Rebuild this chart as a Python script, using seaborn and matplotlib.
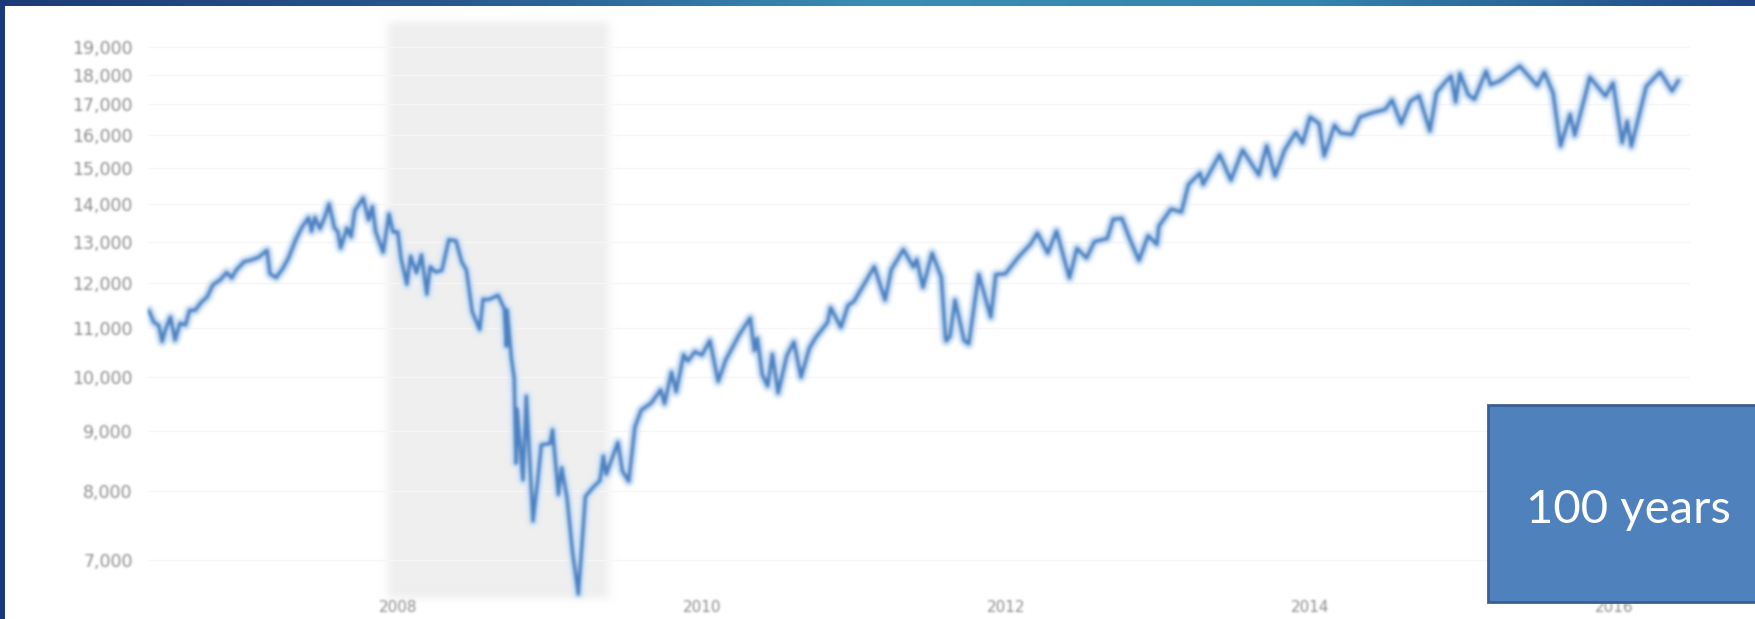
import numpy as np
import pandas as pd
import matplotlib
matplotlib.use("Agg")
import matplotlib.pyplot as plt
import matplotlib.dates as mdates
import seaborn as sns
from matplotlib.colors import LinearSegmentedColormap
from matplotlib.patches import Rectangle
from matplotlib.ticker import FixedLocator, FuncFormatter, NullLocator

# Dow Jones Industrial Average, approximate closes (May 2006 - June 2016)
dates = [
    "2006-05-12", "2006-05-24", "2006-06-05", "2006-06-13", "2006-06-22", "2006-07-03",
    "2006-07-14", "2006-07-26", "2006-08-08", "2006-08-18", "2006-08-31", "2006-09-15",
    "2006-09-29", "2006-10-13", "2006-10-31", "2006-11-15", "2006-11-27", "2006-12-08",
    "2006-12-27", "2007-01-12", "2007-01-31", "2007-02-20", "2007-02-27", "2007-03-14",
    "2007-03-30", "2007-04-13", "2007-04-30", "2007-05-15", "2007-05-31", "2007-06-07",
    "2007-06-15", "2007-06-27", "2007-07-09", "2007-07-19", "2007-08-01", "2007-08-09",
    "2007-08-16", "2007-08-31", "2007-09-10", "2007-09-19", "2007-10-09", "2007-10-22",
    "2007-10-31", "2007-11-08", "2007-11-26", "2007-12-10", "2007-12-20", "2007-12-31",
    "2008-01-08", "2008-01-22", "2008-01-31", "2008-02-14", "2008-02-26", "2008-03-10",
    "2008-03-18", "2008-03-31", "2008-04-15", "2008-05-02", "2008-05-19", "2008-06-02",
    "2008-06-13", "2008-06-27", "2008-07-15", "2008-07-23", "2008-08-05", "2008-08-15",
    "2008-08-28", "2008-09-12", "2008-09-17", "2008-09-19", "2008-09-29", "2008-10-06",
    "2008-10-10", "2008-10-13", "2008-10-27", "2008-11-04", "2008-11-20", "2008-12-01",
    "2008-12-10", "2008-12-31", "2009-01-06", "2009-01-20", "2009-01-28", "2009-02-10",
    "2009-02-23", "2009-03-09", "2009-03-26", "2009-04-13", "2009-04-30", "2009-05-08",
    "2009-05-15", "2009-06-12", "2009-06-23", "2009-07-08", "2009-07-23", "2009-08-07",
    "2009-08-31", "2009-09-23", "2009-10-02", "2009-10-19", "2009-10-30", "2009-11-17",
    "2009-11-27", "2009-12-14", "2009-12-31", "2010-01-19", "2010-02-08", "2010-02-26",
    "2010-03-31", "2010-04-26", "2010-05-06", "2010-05-13", "2010-05-25", "2010-06-07",
    "2010-06-18", "2010-07-02", "2010-07-23", "2010-08-09", "2010-08-26", "2010-09-15",
    "2010-09-30", "2010-10-29", "2010-11-05", "2010-11-30", "2010-12-17", "2010-12-31",
    "2011-01-25", "2011-02-18", "2011-03-16", "2011-03-31", "2011-04-29", "2011-05-23",
    "2011-05-31", "2011-06-15", "2011-07-07", "2011-07-29", "2011-08-08", "2011-08-10",
    "2011-08-19", "2011-08-31", "2011-09-22", "2011-10-03", "2011-10-27", "2011-11-25",
    "2011-12-07", "2011-12-30", "2012-01-31", "2012-02-29", "2012-03-16", "2012-04-10",
    "2012-05-01", "2012-06-01", "2012-06-19", "2012-07-12", "2012-07-31", "2012-08-31",
    "2012-09-14", "2012-10-05", "2012-10-23", "2012-11-15", "2012-12-07", "2012-12-28",
    "2013-01-02", "2013-01-31", "2013-02-25", "2013-03-14", "2013-04-11", "2013-04-18",
    "2013-05-28", "2013-06-24", "2013-07-22", "2013-08-30", "2013-09-18", "2013-10-08",
    "2013-10-31", "2013-11-27", "2013-12-13", "2013-12-31", "2014-01-22", "2014-02-03",
    "2014-02-28", "2014-03-14", "2014-04-11", "2014-04-30", "2014-05-30", "2014-06-30",
    "2014-07-16", "2014-08-07", "2014-08-29", "2014-09-19", "2014-10-15", "2014-10-31",
    "2014-11-26", "2014-12-05", "2014-12-16", "2014-12-26", "2015-01-15", "2015-01-30",
    "2015-02-27", "2015-03-10", "2015-03-31", "2015-05-19", "2015-06-30", "2015-07-17",
    "2015-08-07", "2015-08-25", "2015-09-17", "2015-09-28", "2015-10-30", "2015-11-03",
    "2015-12-11", "2015-12-29", "2016-01-20", "2016-02-01", "2016-02-11", "2016-03-18",
    "2016-04-20", "2016-05-19", "2016-06-03",
]
closes = [
    11380, 11120, 11050, 10710, 10990, 11230,
    10740, 11100, 11060, 11380, 11380, 11560,
    11680, 11960, 12080, 12250, 12120, 12310,
    12510, 12550, 12620, 12790, 12220, 12130,
    12350, 12610, 13060, 13380, 13630, 13270,
    13640, 13340, 13650, 14000, 13360, 13270,
    12850, 13360, 13130, 13820, 14160, 13570,
    13930, 13270, 12740, 13730, 13250, 13260,
    12590, 11970, 12650, 12240, 12680, 11740,
    12390, 12260, 12300, 13060, 13030, 12500,
    12310, 11350, 10960, 11630, 11620, 11660,
    11720, 11420, 10610, 11390, 10370, 9960,
    8450, 9390, 8180, 9630, 7550, 8150,
    8760, 8780, 9020, 7950, 8380, 7890,
    7110, 6550, 7920, 8060, 8170, 8570,
    8270, 8800, 8320, 8160, 9070, 9370,
    9500, 9750, 9490, 10090, 9710, 10440,
    10310, 10500, 10430, 10730, 9910, 10330,
    10860, 11210, 10520, 10780, 10040, 9820,
    10450, 9690, 10420, 10700, 9990, 10570,
    10790, 11120, 11440, 11010, 11490, 11580,
    11980, 12390, 11610, 12320, 12810, 12380,
    12570, 11900, 12720, 12140, 10810, 10720,
    10820, 11610, 10730, 10660, 12210, 11230,
    12200, 12220, 12630, 12950, 13230, 12720,
    13280, 12120, 12840, 12600, 13010, 13090,
    13590, 13610, 13100, 12540, 13160, 12940,
    13410, 13860, 13780, 14540, 14870, 14540,
    15410, 14660, 15550, 14810, 15680, 14780,
    15550, 16100, 15760, 16580, 16370, 15370,
    16320, 16070, 16030, 16580, 16720, 16830,
    17140, 16370, 17100, 17280, 16140, 17390,
    17830, 17960, 17070, 18050, 17320, 17160,
    18130, 17660, 17780, 18310, 17620, 18090,
    17370, 15670, 16670, 16000, 17660, 17920,
    17270, 17720, 15770, 16450, 15660, 17600,
    18100, 17440, 17800,
]

y_ticks = [7000, 8000, 9000, 10000, 11000, 12000, 13000,
           14000, 15000, 16000, 17000, 18000, 19000]
x_tick_years = [2008, 2010, 2012, 2014, 2016]
recession = ("2007-12-07", "2009-05-22")
badge_text = "100 years"

df = pd.DataFrame({"date": pd.to_datetime(dates), "close": closes})


def soft_blur(sigma):
    """agg_filter that applies a gaussian blur to an artist's pixels."""
    r = int(3 * sigma) + 1
    k = np.exp(-0.5 * (np.arange(-r, r + 1) / sigma) ** 2)
    k /= k.sum()

    def _filter(im, dpi):
        a = np.pad(im, ((r, r), (r, r), (0, 0)))
        pm = np.concatenate([a[..., :3] * a[..., 3:4], a[..., 3:4]], axis=2)
        tmp = np.zeros_like(pm)
        for i, w in enumerate(k):
            tmp += w * np.roll(pm, i - r, axis=0)
        out = np.zeros_like(tmp)
        for i, w in enumerate(k):
            out += w * np.roll(tmp, i - r, axis=1)
        alpha = out[..., 3:4]
        rgb = out[..., :3] / np.maximum(alpha, 1e-6)
        res = np.concatenate([np.clip(rgb, 0, 1), np.clip(alpha, 0, 1)], axis=2)
        return res, -r, -r

    return _filter


sns.set_style("white")
plt.rcParams["font.family"] = ["DejaVu Sans"]

W, H = 1755, 619
fig = plt.figure(figsize=(W / 100, H / 100), dpi=100)
fig.patch.set_facecolor("white")

ax = fig.add_axes([148 / W, (H - 598) / H, 1542 / W, 576 / H])
ax.set_facecolor("white")

span = ax.axvspan(pd.Timestamp(recession[0]), pd.Timestamp(recession[1]),
                  color="#efefef", lw=0, zorder=0)
span.set_agg_filter(soft_blur(4.0))

sns.lineplot(data=df, x="date", y="close", ax=ax, color="#d6e6f8",
             lw=8, zorder=2)
sns.lineplot(data=df, x="date", y="close", ax=ax, color="#4a7fc0",
             lw=2.6, zorder=3)
for ln in ax.get_lines():
    ln.set_agg_filter(soft_blur(1.5))

ax.set_yscale("log")
ax.set_ylim(6500, 19950)
ax.set_xlim(pd.Timestamp("2006-05-10"), pd.Timestamp("2016-07-01"))

ax.yaxis.set_major_locator(FixedLocator(y_ticks))
ax.yaxis.set_minor_locator(NullLocator())
ax.yaxis.set_major_formatter(FuncFormatter(lambda v, p: f"{v:,.0f}"))
ax.set_xticks([pd.Timestamp(f"{y}-01-01") for y in x_tick_years])
ax.xaxis.set_major_formatter(mdates.DateFormatter("%Y"))

ax.grid(axis="y", color="#f6f6f6", lw=1)
ax.set_axisbelow(True)
ax.tick_params(axis="y", length=0, pad=11, labelsize=12.5, labelcolor="#8c8c8c")
ax.tick_params(axis="x", length=0, pad=1.5, labelsize=11, labelcolor="#8c8c8c")
ax.set_xlabel("")
ax.set_ylabel("")
for s in ax.spines.values():
    s.set_visible(False)
for lab in ax.get_yticklabels() + ax.get_xticklabels():
    lab.set_agg_filter(soft_blur(1.1))

# slide frame: gradient band along the top, solid strip on the left
band = fig.add_axes([0, 1 - 6 / H, 1, 6 / H])
band_cmap = LinearSegmentedColormap.from_list(
    "band", ["#1d3a78", "#27578f", "#3a8db5", "#3384ae", "#1f4686"])
band.imshow(np.linspace(0, 1, 512)[None, :], aspect="auto", cmap=band_cmap)
band.set_axis_off()
fig.patches.append(Rectangle((0, 0), 5 / W, 1, transform=fig.transFigure,
                             facecolor="#1b3878", edgecolor="none", zorder=10))

# callout box
fig.patches.append(Rectangle((1488 / W, (H - 602) / H), 300 / W, 197 / H,
                             transform=fig.transFigure, facecolor="#4f81bd",
                             edgecolor="#3a6091", lw=2, zorder=10))
fig.text(1526 / W, (H - 523) / H, badge_text, color="white", fontsize=34,
         family=["Lato", "DejaVu Sans"], fontweight="normal",
         ha="left", va="baseline", zorder=11)

fig.savefig("out.png", dpi=100)
